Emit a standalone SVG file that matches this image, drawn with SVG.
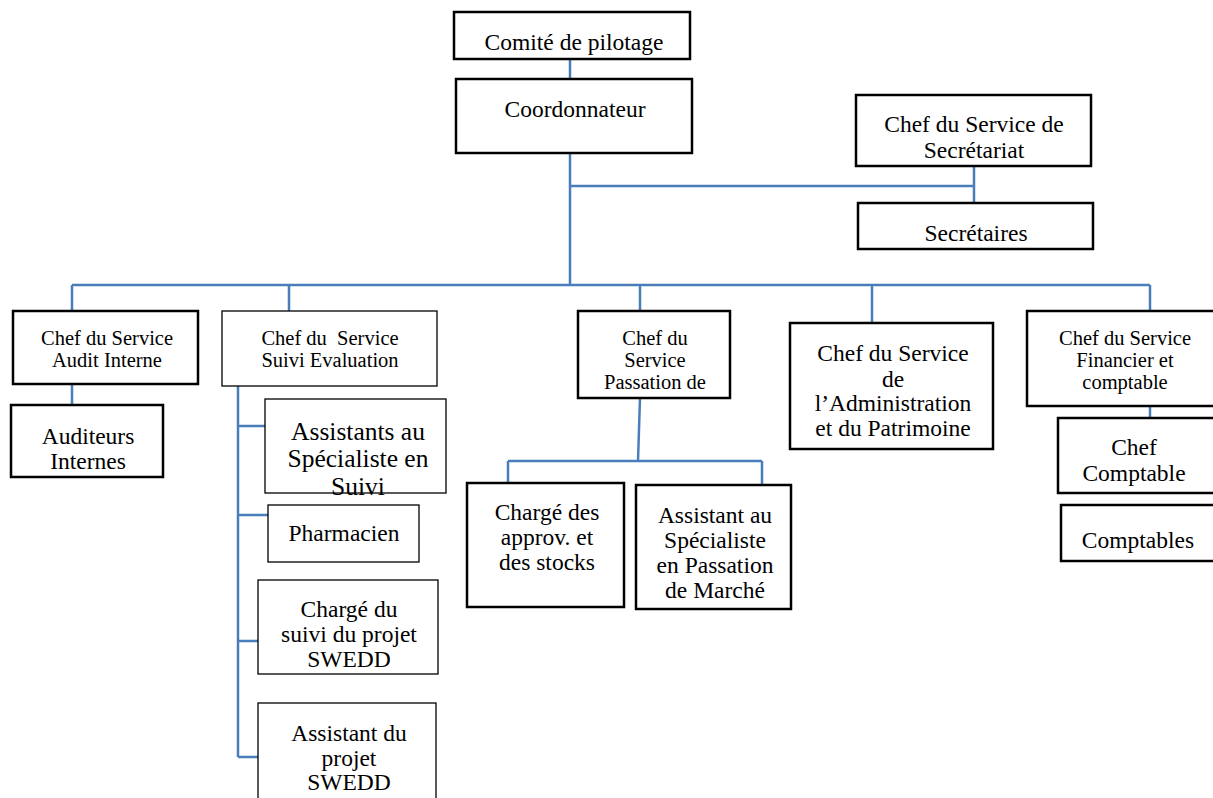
<svg xmlns="http://www.w3.org/2000/svg" width="1213" height="798" viewBox="0 0 1213 798">
<style>
.b{fill:#fff;stroke:#000;stroke-width:2.5}
.t{fill:#fff;stroke:#000;stroke-width:1.3}
text{font-family:"Liberation Serif","Times New Roman",serif;fill:#000;text-anchor:middle}
.L{font-size:23.5px}
.S{font-size:20.5px}
.X{font-size:25.5px}
#connectors{fill:none;stroke:#4a7ebb;stroke-width:2.5}
</style>
<rect width="1213" height="798" fill="#fff"/>
<g id="connectors">
<path d="M570 59V79M570 153V285M570 186H974M974 166V203"/>
<path d="M72 285H1150M72 285V311M289 285V311M640 285V311M872 285V323M1150 285V311"/>
<path d="M72 384V405"/>
<path d="M238 386V757M238 426H267M238 515H268M238 641H258M238 757H258"/>
<path d="M640 398L638 461M508 461H762M508 461V483M762 461V485"/>
<path d="M1150 406V418"/>
</g>
<g id="comite"><rect class="b" x="454" y="12" width="236" height="47"/><text class="L" x="574" y="50">Comité de pilotage</text></g>
<g id="coordonnateur"><rect class="b" x="456" y="79" width="236" height="74"/><text class="L" x="575" y="117">Coordonnateur</text></g>
<g id="secretariat"><rect class="b" x="856" y="95" width="235" height="71"/><text class="L" x="974" y="132">Chef du Service de</text><text class="L" x="974" y="158">Secrétariat</text></g>
<g id="secretaires"><rect class="b" x="858" y="203" width="235" height="46"/><text class="L" x="976" y="241">Secrétaires</text></g>
<g id="audit"><rect class="b" x="13" y="311" width="185" height="73"/><text class="S" x="107" y="345">Chef du Service</text><text class="S" x="107" y="367">Audit Interne</text></g>
<g id="auditeurs"><rect class="b" x="11" y="405" width="152" height="72"/><text class="L" x="88" y="444">Auditeurs</text><text class="L" x="88" y="469">Internes</text></g>
<g id="suivi"><rect class="t" x="222" y="311" width="215" height="75"/><text class="S" x="330" y="345" xml:space="preserve">Chef du  Service</text><text class="S" x="330" y="367">Suivi Evaluation</text></g>
<g id="assistants-suivi"><rect class="t" x="265" y="399" width="181" height="94"/><text class="X" x="358" y="440">Assistants au</text><text class="X" x="358" y="467">Spécialiste en</text><text class="X" x="358" y="495">Suivi</text></g>
<g id="pharmacien"><rect class="t" x="268" y="505" width="151" height="57"/><text class="L" x="344" y="541">Pharmacien</text></g>
<g id="charge-suivi"><rect class="t" x="258" y="580" width="180" height="94"/><text class="L" x="349" y="617">Chargé du</text><text class="L" x="349" y="642">suivi du projet</text><text class="L" x="349" y="667">SWEDD</text></g>
<g id="assistant-projet"><rect class="t" x="258" y="703" width="178" height="100"/><text class="L" x="349" y="741">Assistant du</text><text class="L" x="349" y="766">projet</text><text class="L" x="349" y="790">SWEDD</text></g>
<g id="passation"><rect class="b" x="578" y="311" width="152" height="87"/><text class="S" x="655" y="345">Chef du</text><text class="S" x="655" y="367">Service</text><text class="S" x="655" y="389">Passation de</text></g>
<g id="approv"><rect class="b" x="467" y="483" width="157" height="124"/><text class="L" x="547" y="520">Chargé des</text><text class="L" x="547" y="545">approv. et</text><text class="L" x="547" y="570">des stocks</text></g>
<g id="assistant-passation"><rect class="b" x="636" y="485" width="155" height="124"/><text class="L" x="715" y="523">Assistant au</text><text class="L" x="715" y="548">Spécialiste</text><text class="L" x="715" y="573">en Passation</text><text class="L" x="715" y="598">de Marché</text></g>
<g id="administration"><rect class="b" x="790" y="323" width="203" height="126"/><text class="L" x="893" y="361">Chef du Service</text><text class="L" x="893" y="387">de</text><text class="L" x="893" y="411">l’Administration</text><text class="L" x="893" y="436">et du Patrimoine</text></g>
<g id="financier"><rect class="b" x="1027" y="311" width="190" height="95"/><text class="S" x="1125" y="345">Chef du Service</text><text class="S" x="1125" y="367">Financier et</text><text class="S" x="1125" y="389">comptable</text></g>
<g id="chef-comptable"><rect class="b" x="1058" y="418" width="158" height="75"/><text class="L" x="1134" y="455">Chef</text><text class="L" x="1134" y="481">Comptable</text></g>
<g id="comptables"><rect class="b" x="1061" y="505" width="155" height="56"/><text class="L" x="1138" y="548">Comptables</text></g>
</svg>
